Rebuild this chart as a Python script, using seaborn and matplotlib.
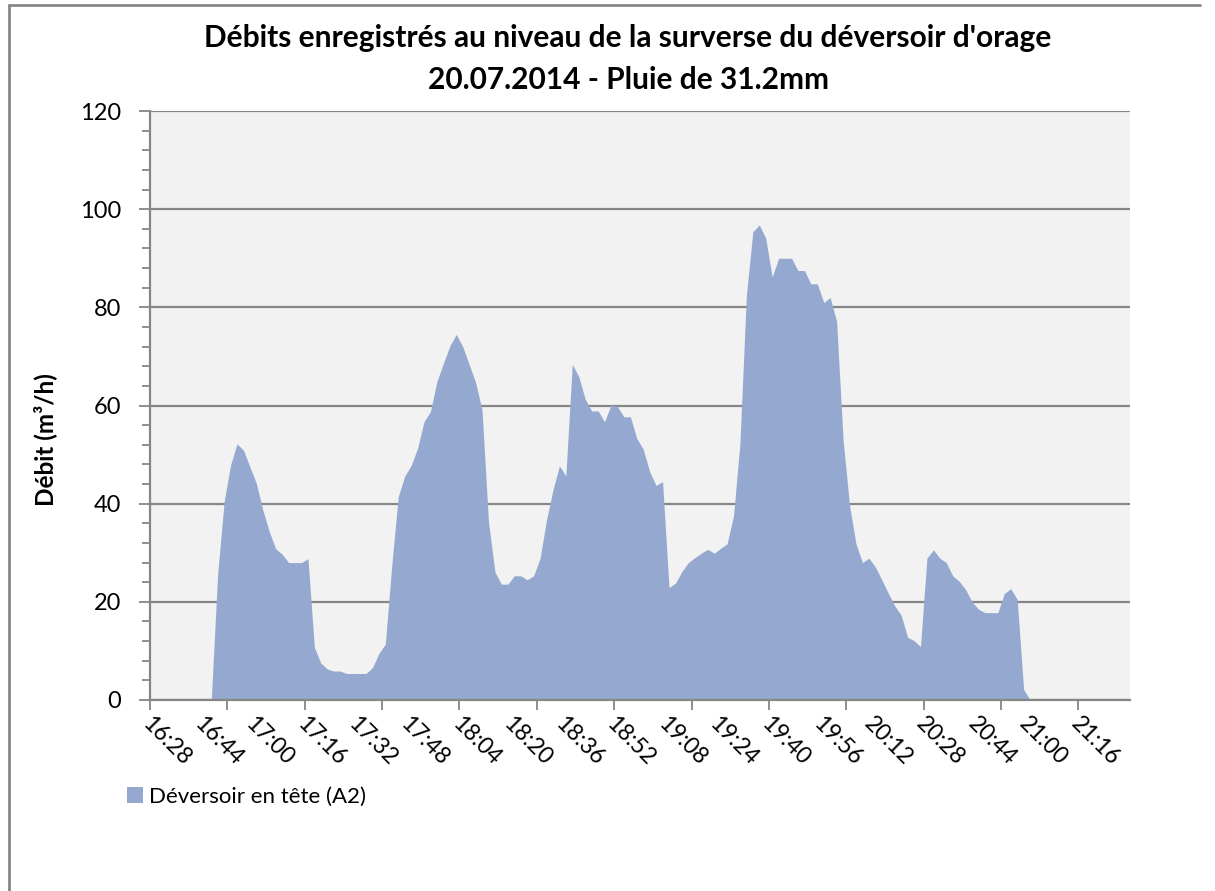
import numpy as np
import pandas as pd
import matplotlib
matplotlib.use("Agg")
import matplotlib.pyplot as plt
import seaborn as sns
from matplotlib.patches import Patch
from matplotlib.lines import Line2D
from matplotlib.ticker import MultipleLocator, FixedLocator

# =========================
# DATA
# =========================

start_time = "16:28"
step_minutes = 2

debit_a2 = [
    0, 0, 0, 0, 0, 0, 0, 0, 0, 0,
    25.8, 40.4, 47.9, 52.2, 50.9, 47.5, 44.1, 38.7, 34.3, 30.8,
    29.7, 28.0, 28.0, 28.0, 28.8, 10.7, 7.5, 6.3, 5.9, 5.9,
    5.4, 5.4, 5.4, 5.4, 6.6, 9.5, 11.4, 27.5, 41.4, 45.6,
    47.8, 51.3, 56.7, 58.8, 64.9, 68.6, 72.1, 74.5, 72.0, 68.4,
    64.7, 59.1, 36.3, 26.1, 23.6, 23.6, 25.3, 25.3, 24.5, 25.3,
    28.9, 36.7, 42.8, 47.7, 45.7, 68.4, 65.9, 61.3, 58.9, 58.9,
    56.7, 60.1, 59.8, 57.7, 57.7, 53.3, 51.1, 46.5, 43.7, 44.5,
    22.9, 23.8, 26.2, 28.0, 29.0, 29.9, 30.7, 29.9, 30.9, 31.8,
    37.5, 52.3, 82.5, 95.4, 96.8, 94.1, 86.2, 90.0, 90.0, 90.0,
    87.5, 87.5, 84.8, 84.8, 81.0, 82.0, 77.1, 53.0, 39.7, 31.8,
    28.0, 28.9, 27.1, 24.5, 21.8, 19.2, 17.3, 12.8, 12.1, 10.9,
    28.9, 30.6, 28.9, 28.0, 25.3, 24.2, 22.5, 20.0, 18.5, 17.8,
    17.8, 17.8, 21.7, 22.7, 20.5, 2.2, 0, 0, 0, 0,
    0, 0, 0, 0, 0, 0, 0, 0, 0, 0,
    0, 0,
]

times = pd.date_range("2014-07-20 " + start_time, periods=len(debit_a2),
                      freq=f"{step_minutes}min")
time_labels = times.strftime("%H:%M").tolist()

df = pd.DataFrame({"idx": np.arange(len(debit_a2)), "heure": time_labels,
                   "debit": debit_a2})

title = "Débits enregistrés au niveau de la surverse du déversoir d'orage\n20.07.2014 - Pluie de 31.2mm"
y_label = "Débit (m³/h)"
series_name = "Déversoir en tête (A2)"

# =========================
# STYLE
# =========================

sns.set_style("white")
plt.rcParams["font.family"] = ["Lato", "DejaVu Sans"]
plt.rcParams["text.color"] = "black"
plt.rcParams["xtick.color"] = "black"
plt.rcParams["ytick.color"] = "black"

grey = "#868686"
fill_col = "#95A9D0"

W, H = 1215, 891
fig = plt.figure(figsize=(W / 100, H / 100), dpi=100)
ax = fig.add_axes([150 / W, 191 / H, 980 / W, 589 / H])
ax.set_facecolor("#F2F2F2")

# =========================
# AREA
# =========================

ax.fill_between(df["idx"], 0, df["debit"], color=fill_col, linewidth=0,
                zorder=3)
sns.lineplot(data=df, x="idx", y="debit", ax=ax, linewidth=0, color=fill_col)

n = len(debit_a2)
ax.set_xlim(-0.5, n - 0.5)
ax.set_ylim(0, 120)

# y axis
ax.yaxis.set_major_locator(MultipleLocator(20))
ax.yaxis.set_minor_locator(MultipleLocator(4))
ax.grid(axis="y", which="major", color=grey, linewidth=1.6, zorder=1)
ax.set_axisbelow(True)
ax.tick_params(axis="y", which="major", length=8, width=1.3, color=grey,
               labelsize=17, labelcolor="black", pad=13, left=True)
ax.tick_params(axis="y", which="minor", length=6, width=1.3, color=grey,
               left=True)

# x axis: labels every 16 min, tick marks every 24 min
label_pos = np.arange(0, n, 8)
ax.xaxis.set_major_locator(FixedLocator(label_pos))
ax.set_xticklabels([time_labels[i] for i in label_pos], rotation=-45,
                   ha="left", va="top", rotation_mode="anchor")
ax.xaxis.set_minor_locator(FixedLocator(np.arange(-0.5, n, 12)))
ax.xaxis.remove_overlapping_locs = False
ax.tick_params(axis="x", which="major", length=0, labelsize=16.5,
               labelcolor="black", pad=9)
ax.tick_params(axis="x", which="minor", length=7, width=1.3, color=grey,
               bottom=True)

ax.set_xlabel("")
ax.set_ylabel("")
for s in ["top", "right"]:
    ax.spines[s].set_visible(False)
for s in ["left", "bottom"]:
    ax.spines[s].set_color(grey)
    ax.spines[s].set_linewidth(1.6)
    ax.spines[s].set_zorder(4)

# =========================
# TEXTS
# =========================

fig.text(628 / W, 1 - 59 / H, title, ha="center", va="center",
         fontsize=21.5, fontweight="bold", linespacing=1.6, color="black")
fig.text(45 / W, 1 - 440 / H, y_label, ha="center", va="center",
         rotation=90, fontsize=17.5, fontweight="bold", color="black")

handle = Patch(facecolor=fill_col, edgecolor="none")
fig.legend([handle], [series_name], loc="center left",
           bbox_to_anchor=(127 / W, 1 - 797 / H), frameon=False,
           fontsize=16, handlelength=0.7, handleheight=0.7,
           handletextpad=0.3, borderaxespad=0, borderpad=0)

# chart frame
fig.add_artist(Line2D([9 / W, 9 / W], [0, 1 - 5 / H], color=grey, lw=2))
fig.add_artist(Line2D([9 / W, 1200 / W], [1 - 5 / H, 1 - 5 / H], color=grey, lw=2))

fig.savefig("out.png", dpi=100)
plt.close(fig)
